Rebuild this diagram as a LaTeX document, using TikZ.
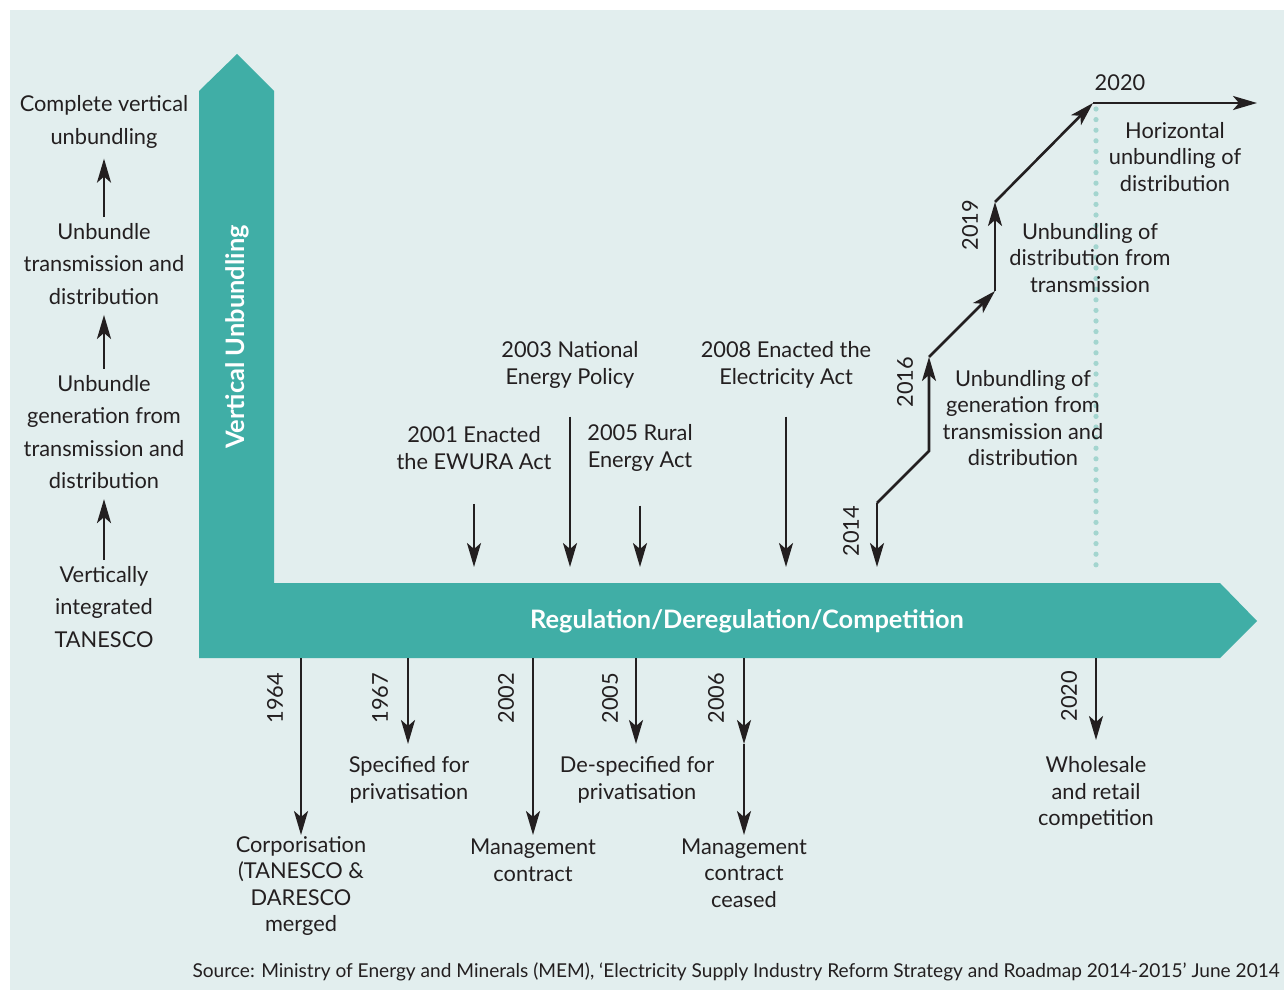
\documentclass[tikz,border=0pt]{standalone}
\usepackage{fontspec}
\setmainfont{Lato}
\usepackage{tikz}
\usetikzlibrary{arrows.meta,positioning}
\definecolor{TZTeal}{HTML}{40AEA6}
\definecolor{TZBack}{HTML}{E2EEEE}
\definecolor{TZDot}{HTML}{A3D5CF}
\definecolor{TZInk}{HTML}{231F20}

\begin{document}
\begin{tikzpicture}[
  x=0.5pt,y=-0.5pt,
  lbl/.style={font=\fontsize{10.9}{13.3}\selectfont,align=center,inner sep=0pt,text=TZInk},
  leftlbl/.style={lbl,font=\fontsize{10.9}{16.2}\selectfont},
  yr/.style={lbl,rotate=90},
  band/.style={font=\bfseries\fontsize{12.7}{15}\selectfont,text=white,inner sep=0pt},
  arr/.style={-{Stealth[length=12pt,width=7pt,inset=3pt]},draw=TZInk,line width=1.3pt}
]
\useasboundingbox (0,0) rectangle (1284,990);
\fill[TZBack] (10,10) rectangle (1284,990);
% the bent band
\fill[TZTeal] (199,658) -- (199,91) -- (237,54) -- (274,91) -- (274,583)
  -- (1220,583) -- (1257,621) -- (1220,658) -- cycle;
\node[band,rotate=90] (vu) at (237,337) {Vertical Unbundling};
\node[band] (rdc) at (747,621) {Regulation/Deregulation/Competition};
\coordinate (bartop) at (0,567);
\coordinate (barbot) at (0,658);

% left column
\node[leftlbl] (cvu) at (104,122) {Complete vertical\\unbundling};
\node[leftlbl] (utd) at (104,264) {Unbundle\\transmission and\\distribution};
\node[leftlbl] (ugt) at (104,432) {Unbundle\\generation from\\transmission and\\distribution};
\node[leftlbl] (vit) at (104,607) {Vertically\\integrated\\TANESCO};
\draw[arr,shorten <=3pt,shorten >=5pt] (vit.north) -- (ugt.south);
\draw[arr,shorten <=3pt,shorten >=5pt] (ugt.north) -- (utd.south);
\draw[arr,shorten <=3pt,shorten >=5pt] (utd.north) -- (cvu.south);

% events above the band
\node[lbl] (e2003) at (570,365) {2003 National\\Energy Policy};
\node[lbl] (e2008) at (786,365) {2008 Enacted the\\Electricity Act};
\node[lbl] (e2001) at (474,448) {2001 Enacted\\the EWURA Act};
\node[lbl] (e2005) at (640,448) {2005 Rural\\Energy Act};
\draw[arr,shorten <=14pt] (e2003.south) -- (e2003.south |- bartop);
\draw[arr,shorten <=14pt] (e2008.south) -- (e2008.south |- bartop);
\draw[arr,shorten <=17pt] (e2001.south) -- (e2001.south |- bartop);
\draw[arr,shorten <=17pt] (e2005.south) -- (e2005.south |- bartop);

% unbundling steps
\coordinate (s0) at (877,567);
\coordinate (s1) at (877,503);
\coordinate (s2) at (929,451);
\coordinate (s3) at (929,357);
\coordinate (s4) at (995,291);
\coordinate (s5) at (995,202);
\coordinate (s6) at (1093,103);
\coordinate (s7) at (1257,103);
\draw[TZDot,line width=2.6pt,line cap=round,dash pattern=on 0pt off 5.3pt] (1096,109) -- (1096,568);
\draw[arr] (s1) -- (s0);
\draw[arr] (s1) -- (s2) -- (s3);
\draw[arr] (s3) -- (s4);
\draw[arr] (s4) -- (s5);
\draw[arr] (s5) -- (s6);
\draw[arr] (s6) -- (s7);
\node[yr] (y2014) at (851,531) {2014};
\node[yr] (y2016) at (905,382) {2016};
\node[yr] (y2019) at (970,225) {2019};
\node[lbl] (y2020) at (1120,83) {2020};
\node[lbl] (hud) at (1175,157) {Horizontal\\unbundling of\\distribution};
\node[lbl] (udt) at (1090,258) {Unbundling of\\distribution from\\transmission};
\node[lbl] (ugtd) at (1023,418) {Unbundling of\\generation from\\transmission and\\distribution};

% events below the band
\coordinate (b1964) at (301,835);
\coordinate (b1967) at (408,744);
\coordinate (b2002) at (533,835);
\coordinate (b2005) at (636,744);
\coordinate (b2006m) at (744,744);
\coordinate (b2006) at (744,835);
\coordinate (b2020) at (1096,740);
\draw[arr] (b1964 |- barbot) -- (b1964);
\draw[arr] (b1967 |- barbot) -- (b1967);
\draw[arr] (b2002 |- barbot) -- (b2002);
\draw[arr] (b2005 |- barbot) -- (b2005);
\draw[arr] (b2006 |- barbot) -- (b2006m);
\draw[arr] (b2006m) -- (b2006);
\draw[arr] (b2020 |- barbot) -- (b2020);
\node[yr] (y1964) at (275,698) {1964};
\node[yr] (y1967) at (380,698) {1967};
\node[yr] (y2002) at (506,698) {2002};
\node[yr] (y2005) at (610,698) {2005};
\node[yr] (y2006) at (716,698) {2006};
\node[yr] (y2020b) at (1069,696) {2020};
\node[lbl] (spec) at (409,780) {Specified for\\privatisation};
\node[lbl] (despec) at (637,780) {De-specified for\\privatisation};
\node[lbl] (corp) at (301,886) {Corporisation\\(TANESCO \&\\DARESCO\\merged};
\node[lbl] (mgmt) at (533,860) {Management\\contract};
\node[lbl] (mgmtc) at (744,873) {Management\\contract\\ceased};
\node[lbl] (whole) at (1096,793) {Wholesale\\and retail\\competition};

\node[lbl,anchor=east,font=\fontsize{9.55}{12}\selectfont] (src) at (1280,972)
  {Source: Ministry of Energy and Minerals (MEM), ‘Electricity Supply Industry Reform Strategy and Roadmap 2014-2015’ June 2014};
\end{tikzpicture}
\end{document}
